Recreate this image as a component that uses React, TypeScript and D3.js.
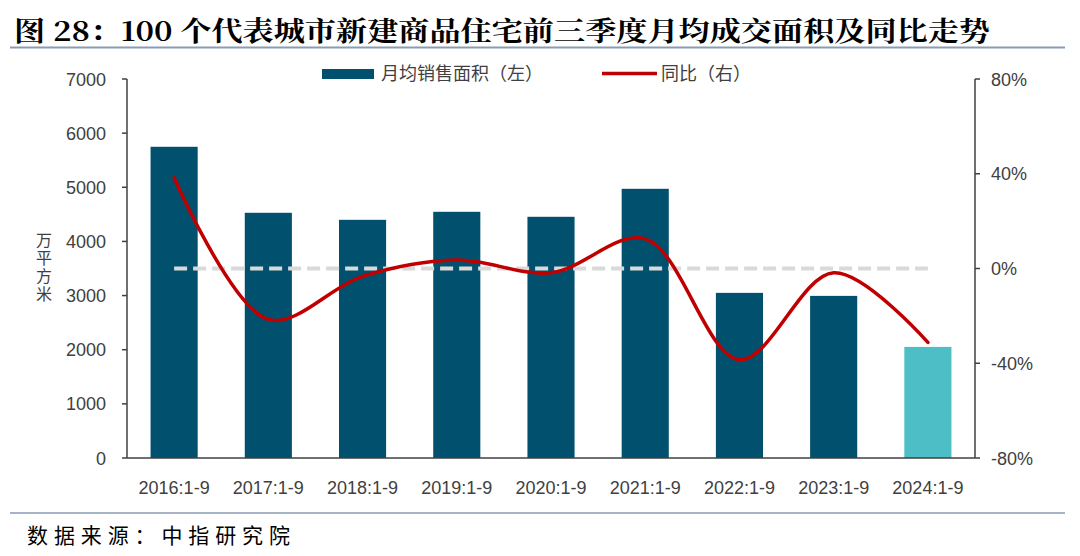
import React, { useEffect } from "react";
import * as d3 from "d3";

const categories = ["2016:1-9", "2017:1-9", "2018:1-9", "2019:1-9", "2020:1-9", "2021:1-9", "2022:1-9", "2023:1-9", "2024:1-9"];
const areaValues = [5748, 4529, 4399, 4547, 4455, 4972, 3050, 2994, 2052];
const yoyValues = [38.3, -21.5, -3.3, 3.6, -1.8, 12.5, -38.5, -1.8, -31.2];
const leftTicks = [0, 1000, 2000, 3000, 4000, 5000, 6000, 7000];
const rightTicks = [-80, -40, 0, 40, 80];

const W = 1080;
const H = 556;
const plotLeft = 127;
const plotRight = 975;
const plotTop = 79;
const plotBottom = 458;

export default function App() {
  useEffect(() => {
    document.body.style.margin = "0";
  }, []);

  const x = d3.scaleBand<string>().domain(categories).range([plotLeft, plotRight]).paddingInner(0.5).paddingOuter(0.25);
  const yL = d3.scaleLinear().domain([0, 7000]).range([plotBottom, plotTop]);
  const yR = d3.scaleLinear().domain([-80, 80]).range([plotBottom, plotTop]);
  const cx = (c: string) => (x(c) as number) + x.bandwidth() / 2;

  const line = d3
    .line<number>()
    .x((_, i) => cx(categories[i]))
    .y((d) => yR(d))
    .curve(d3.curveCatmullRom.alpha(0.5));

  const txt = "#404040";
  const font = "'Liberation Sans', Arial, sans-serif";
  const cjk = "'Noto Sans CJK SC', sans-serif";
  const fs = 18;

  return (
    <svg width={W} height={H} style={{ position: "absolute", left: 0, top: 0, background: "#fff" }}>
      {/* Title */}
      <text x={14} y={41} fontFamily="'Noto Serif CJK SC', 'Noto Sans CJK SC', serif" fontWeight="bold" fontSize={27} fill="#000" textLength={976} lengthAdjust="spacingAndGlyphs">
        图 28：100 个代表城市新建商品住宅前三季度月均成交面积及同比走势
      </text>
      <line x1={10} x2={1065} y1={47.5} y2={47.5} stroke="#8a9bb5" strokeWidth={2} />

      {/* Legend */}
      <rect x={322} y={69} width={52} height={10} fill="#00506e" />
      <text x={381} y={80} fontFamily={cjk} fontSize={18} fill={txt}>月均销售面积（左）</text>
      <line x1={602} x2={657} y1={73.5} y2={73.5} stroke="#c00000" strokeWidth={3.5} />
      <text x={661} y={80} fontFamily={cjk} fontSize={18} fill={txt}>同比（右）</text>

      {/* Bars */}
      {categories.map((c, i) => (
        <rect
          key={c}
          x={x(c)}
          y={yL(areaValues[i])}
          width={x.bandwidth()}
          height={plotBottom - yL(areaValues[i])}
          fill={i === categories.length - 1 ? "#4dbdc6" : "#00506e"}
        />
      ))}

      {/* Zero dashed line */}
      <line
        x1={cx(categories[0])}
        x2={cx(categories[categories.length - 1])}
        y1={yR(0)}
        y2={yR(0)}
        stroke="#d9d9d9"
        strokeWidth={4}
        strokeDasharray="13,6"
      />

      {/* YoY line */}
      <path d={line(yoyValues) || ""} fill="none" stroke="#c00000" strokeWidth={3.5} strokeLinecap="round" />

      {/* Left axis */}
      <line x1={plotLeft} x2={plotLeft} y1={plotTop} y2={plotBottom} stroke="#404040" strokeWidth={1.5} />
      {leftTicks.map((t) => (
        <g key={t}>
          <line x1={plotLeft - 5} x2={plotLeft} y1={yL(t)} y2={yL(t)} stroke="#404040" strokeWidth={1.5} />
          <text x={106} y={yL(t) + 6.5} textAnchor="end" fontFamily={font} fontSize={fs} fill={txt}>
            {t}
          </text>
        </g>
      ))}
      <text
        x={44}
        y={232}
        fontFamily={cjk}
        fontSize={16}
        fill={txt}
        letterSpacing={2}
        style={{ writingMode: "vertical-rl", textOrientation: "upright" } as React.CSSProperties}
      >
        万平方米
      </text>

      {/* Right axis */}
      <line x1={plotRight} x2={plotRight} y1={plotTop} y2={plotBottom} stroke="#404040" strokeWidth={1.5} />
      {rightTicks.map((t) => (
        <g key={t}>
          <line x1={plotRight} x2={plotRight + 5} y1={yR(t)} y2={yR(t)} stroke="#404040" strokeWidth={1.5} />
          <text x={991} y={yR(t) + 6.5} textAnchor="start" fontFamily={font} fontSize={fs} fill={txt}>
            {t}%
          </text>
        </g>
      ))}

      {/* X axis */}
      <line x1={plotLeft} x2={plotRight} y1={plotBottom} y2={plotBottom} stroke="#404040" strokeWidth={1.5} />
      {categories.map((c) => (
        <text key={c} x={cx(c)} y={494} textAnchor="middle" fontFamily={font} fontSize={fs} fill={txt}>
          {c}
        </text>
      ))}

      {/* Source */}
      <line x1={10} x2={1065} y1={513} y2={513} stroke="#8a9bb5" strokeWidth={1.5} />
      <text x={27} y={543} fontFamily="'Noto Sans CJK SC', serif" fontSize={21} fill="#000" textLength={263} lengthAdjust="spacing">
        数据来源：中指研究院
      </text>
    </svg>
  );
}
